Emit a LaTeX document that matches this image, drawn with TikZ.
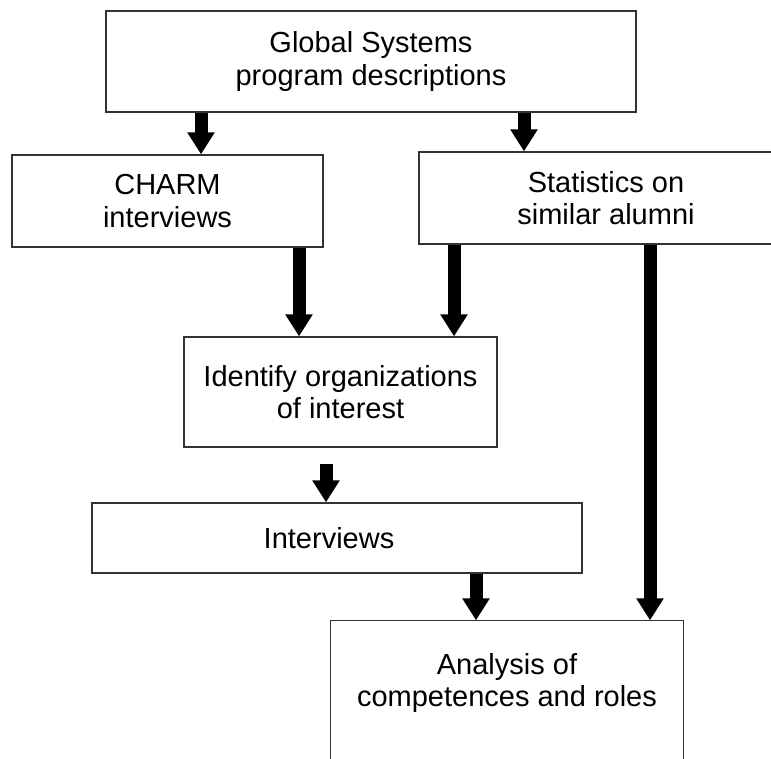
\documentclass[tikz,border=0pt]{standalone}
\usepackage{fontspec}
\setmainfont{Liberation Sans}
\usetikzlibrary{arrows.meta,calc}
\begin{document}
\begin{tikzpicture}[x=1pt,y=-1pt,
  boxline/.style={draw=black!80, line width=1.3pt},
  box/.style={boxline, align=center, inner sep=0pt, font=\fontsize{29}{32.5}\selectfont},
  fat/.style={line width=13pt, -{Triangle[width=26pt,length=22pt]}}]
\useasboundingbox (0,0) rectangle (771,758);
\clip (0,0) rectangle (771,758);
\node[box, minimum width=530pt, minimum height=101pt] (g) at (371,61.5) {Global Systems\\program descriptions};
\node[box, minimum width=311pt, minimum height=92pt] (ch) at (167.5,201) {CHARM\\interviews};
\node[box, minimum width=374pt, minimum height=92pt] (st) at (606,198) {Statistics on\\similar alumni};
\node[box, minimum width=313pt, minimum height=110pt] (id) at (340.5,392) {Identify organizations\\of interest};
\node[box, minimum width=490pt, minimum height=70pt] (iv) at (337,538) {Interviews\hspace*{16pt}};
\node[box, draw=none, minimum width=352pt, minimum height=124pt] (an) at (507,683) {Analysis of\\competences and roles};
\draw[boxline] ([yshift=-200pt]an.north west) -- (an.north west) -- (an.north east) -- ([yshift=-200pt]an.north east);
\coordinate (a1) at (201,0);
\coordinate (a2) at (524,0);
\coordinate (a3) at (299,0);
\coordinate (a4) at (454,0);
\coordinate (a5) at (650,0);
\coordinate (a6) at (326,0);
\coordinate (a7) at (476,0);
\coordinate (s6) at ([yshift=-16pt]id.south);
\draw[fat] (g.south -| a1) -- (ch.north -| a1);
\draw[fat] (g.south -| a2) -- (st.north -| a2);
\draw[fat] (ch.south -| a3) -- (id.north -| a3);
\draw[fat] (st.south -| a4) -- (id.north -| a4);
\draw[fat] (st.south -| a5) -- (an.north -| a5);
\draw[fat] (s6 -| a6) -- (iv.north -| a6);
\draw[fat] (iv.south -| a7) -- (an.north -| a7);
\end{tikzpicture}
\end{document}
